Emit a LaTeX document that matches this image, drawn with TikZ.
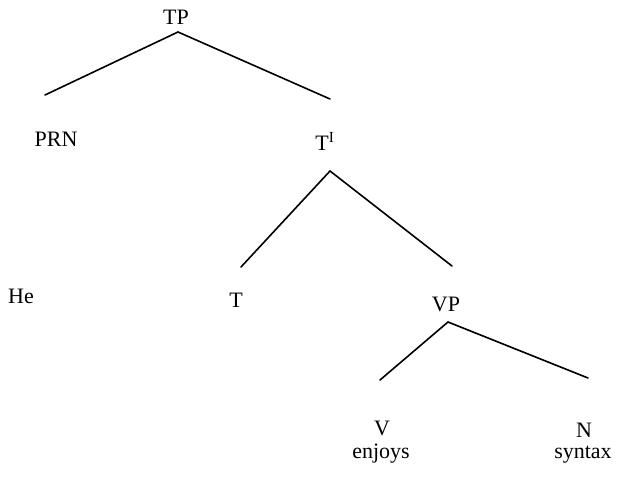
\documentclass[tikz,border=0pt]{standalone}
\usepackage{fontspec}
\setmainfont{Liberation Serif}
\begin{document}
\begin{tikzpicture}[x=1pt,y=-1pt,
  lbl/.style={inner sep=0pt,anchor=base,font=\fontsize{22}{25}\selectfont},
  branch/.style={line width=1.6pt,line cap=round}]
\useasboundingbox (0,0) rectangle (623,476);
% category labels and words
\node[lbl] (tp)  at (176,25)  {TP};
\node[lbl] (prn) at (56,146)  {PRN};
\node[lbl] (tb)  at (325,150) {T\textsuperscript{I}};
\node[lbl] (he)  at (21,303)  {He};
\node[lbl] (t)   at (236,307) {T};
\node[lbl] (vp)  at (446,311) {VP};
\node[lbl] (v)   at (382,435) {V};
\node[lbl] (enj) at (381,458) {enjoys};
\node[lbl] (n)   at (584,437) {N};
\node[lbl] (syn) at (583,458) {syntax};
% branch end points
\coordinate (tpR)  at (178,32);
\coordinate (tpL1) at (45,95);
\coordinate (tpL2) at (330,99);
\coordinate (tbR)  at (330,171);
\coordinate (tbL1) at (241,267);
\coordinate (tbL2) at (452,266);
\coordinate (vpR)  at (448,322);
\coordinate (vpL1) at (380,380);
\coordinate (vpL2) at (588,378);
% branches
\draw[branch] (tpL1) -- (tpR) -- (tpL2);
\draw[branch] (tbL1) -- (tbR) -- (tbL2);
\draw[branch] (vpL1) -- (vpR) -- (vpL2);
\end{tikzpicture}
\end{document}
